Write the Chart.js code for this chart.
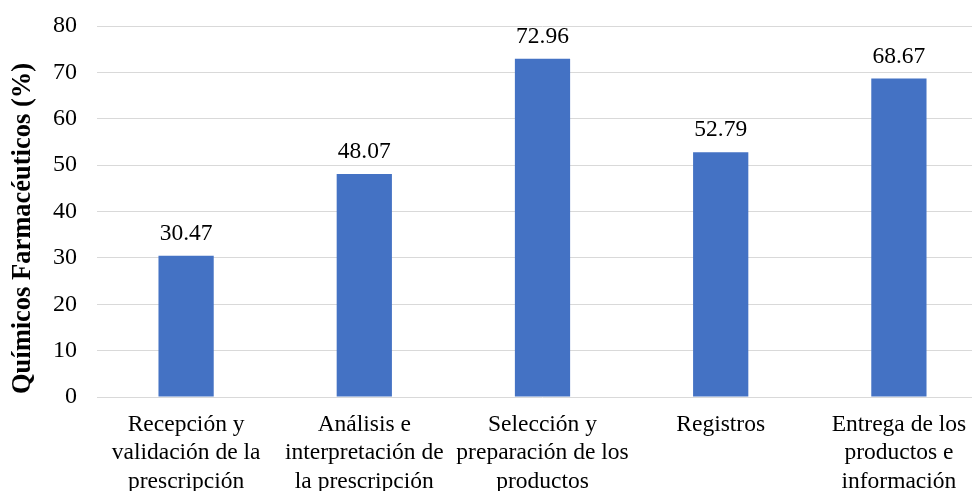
<!DOCTYPE html>
<html>
<head>
<meta charset="utf-8">
<script src="https://cdn.jsdelivr.net/npm/chart.js@4"></script>
<style>
  html, body { margin: 0; padding: 0; background: #fff; overflow: hidden; }
  #wrap { width: 988px; height: 500px; }
</style>
</head>
<body>
<div id="wrap"><canvas id="chart"></canvas></div>
<script>
// data
const categories = [
    ['Recepción y', 'validación de la', 'prescripción'],
    ['Análisis e', 'interpretación de', 'la prescripción'],
    ['Selección y', 'preparación de los', 'productos'],
    ['Registros'],
    ['Entrega de los', 'productos e', 'información']
];
const values = [30.47, 48.07, 72.96, 52.79, 68.67];
const yTicks = [0, 10, 20, 30, 40, 50, 60, 70, 80];
const yTitle = 'Químicos Farmacéuticos (%)';

const serif = '"Liberation Serif", "Times New Roman", serif';

// draw the value above each bar, plus the y title (sits a bit lower than the plot middle)
const valueLabels = {
    id: 'valueLabels',
    afterDatasetsDraw(chart) {
        const ctx = chart.ctx;
        const meta = chart.getDatasetMeta(0);
        ctx.save();
        ctx.font = '23.5px ' + serif;
        ctx.fillStyle = '#000';
        ctx.textAlign = 'center';
        ctx.textBaseline = 'alphabetic';
        meta.data.forEach((bar, i) => {
            ctx.fillText(values[i].toFixed(2), bar.x, bar.y - 16);
        });

        const area = chart.chartArea;
        ctx.translate(23, (area.top + area.bottom) / 2 + 17);
        ctx.rotate(-Math.PI / 2);
        ctx.font = 'bold 26.5px ' + serif;
        ctx.textBaseline = 'middle';
        ctx.fillText(yTitle, 0, 0);
        ctx.restore();
    }
};

new Chart(document.getElementById('chart'), {
    type: 'bar',
    data: {
        labels: categories,
        datasets: [{
            data: values,
            backgroundColor: '#4472C4',
            borderWidth: 0,
            categoryPercentage: 1,
            barPercentage: 0.31
        }]
    },
    options: {
        responsive: true,
        maintainAspectRatio: false,
        animation: false,
        layout: { padding: { top: 26, right: 0, left: 0, bottom: 0 } },
        plugins: {
            legend: { display: false },
            tooltip: { enabled: false }
        },
        scales: {
            x: {
                grid: { display: false, drawTicks: false },
                border: { display: false },
                ticks: {
                    autoSkip: false,
                    maxRotation: 0,
                    padding: 14,
                    color: '#000',
                    font: { family: serif, size: 23.5, lineHeight: 1.2 }
                },
                afterFit(scale) { scale.height = 103; }
            },
            y: {
                min: 0,
                max: 80,
                afterBuildTicks(scale) { scale.ticks = yTicks.map(v => ({ value: v })); },
                grid: { color: '#d9d9d9', lineWidth: 1, drawTicks: false },
                border: { display: false },
                ticks: {
                    padding: 20,
                    color: '#000',
                    font: { family: serif, size: 24 }
                },
                afterFit(scale) {
                    scale.width = 97;
                    scale.paddingTop = 0;
                    scale.paddingBottom = 0;
                }
            }
        }
    },
    plugins: [valueLabels]
});
</script>
</body>
</html>
